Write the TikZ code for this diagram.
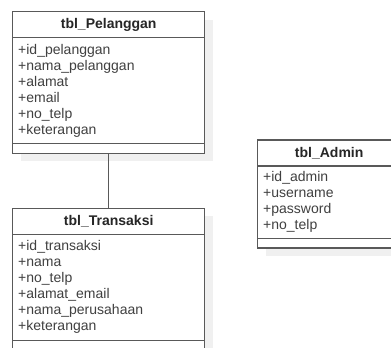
\documentclass[tikz,border=0pt]{standalone}
\usepackage{fontspec}
\setmainfont{Liberation Sans}
\usetikzlibrary{positioning,shadows}
\begin{document}
\begin{tikzpicture}[x=1pt,y=-1pt]

% --- Stijldefinities ---
\tikzset{
    tabel/.style={
        draw=black!65,
        line width=1.2pt,
        fill=white,
        outer sep=0pt,
        drop shadow={shadow xshift=8pt, shadow yshift=-8pt, fill=black!6, opacity=1}
    },
    kop/.style={
        tabel,
        minimum height=26pt,
        font=\fontsize{14}{16}\selectfont\bfseries,
        text=black!85
    },
    velden/.style={
        tabel,
        align=left,
        inner xsep=5.5pt,
        font=\fontsize{14}{16}\selectfont,
        text=black!75
    },
    voet/.style={
        tabel,
        minimum height=9.5pt,
        inner sep=0pt
    },
    lijn/.style={
        draw=black!65,
        line width=1.2pt
    }
}

\useasboundingbox (0,0) rectangle (391,348);

% --- Tabel Pelanggan ---
\node[kop, minimum width=192pt, anchor=north west] (kopP) at (12.7,11.7) {tbl\_Pelanggan};
\node[velden, text width=181pt, minimum height=106pt, below=0pt of kopP] (veldP)
    {+id\_pelanggan\\+nama\_pelanggan\\+alamat\\+email\\+no\_telp\\+keterangan};
\node[voet, minimum width=192pt, below=0pt of veldP] (voetP) {};

% --- Tabel Transaksi ---
\node[kop, minimum width=192pt, anchor=north west] (kopT) at (12.7,208.3) {tbl\_Transaksi};
\node[velden, text width=181pt, minimum height=106pt, below=0pt of kopT] (veldT)
    {+id\_transaksi\\+nama\\+no\_telp\\+alamat\_email\\+nama\_perusahaan\\+keterangan};
\node[voet, minimum width=192pt, below=0pt of veldT] (voetT) {};

% --- Tabel Admin ---
\node[kop, minimum width=143pt, anchor=north west] (kopA) at (257.7,140) {tbl\_Admin};
\node[velden, text width=132pt, minimum height=72.5pt, below=0pt of kopA] (veldA)
    {+id\_admin\\+username\\+password\\+no\_telp};
\node[voet, minimum width=143pt, below=0pt of veldA] (voetA) {};

% --- Relatie ---
\draw[lijn] (voetP) -- (kopT);

\end{tikzpicture}
\end{document}
